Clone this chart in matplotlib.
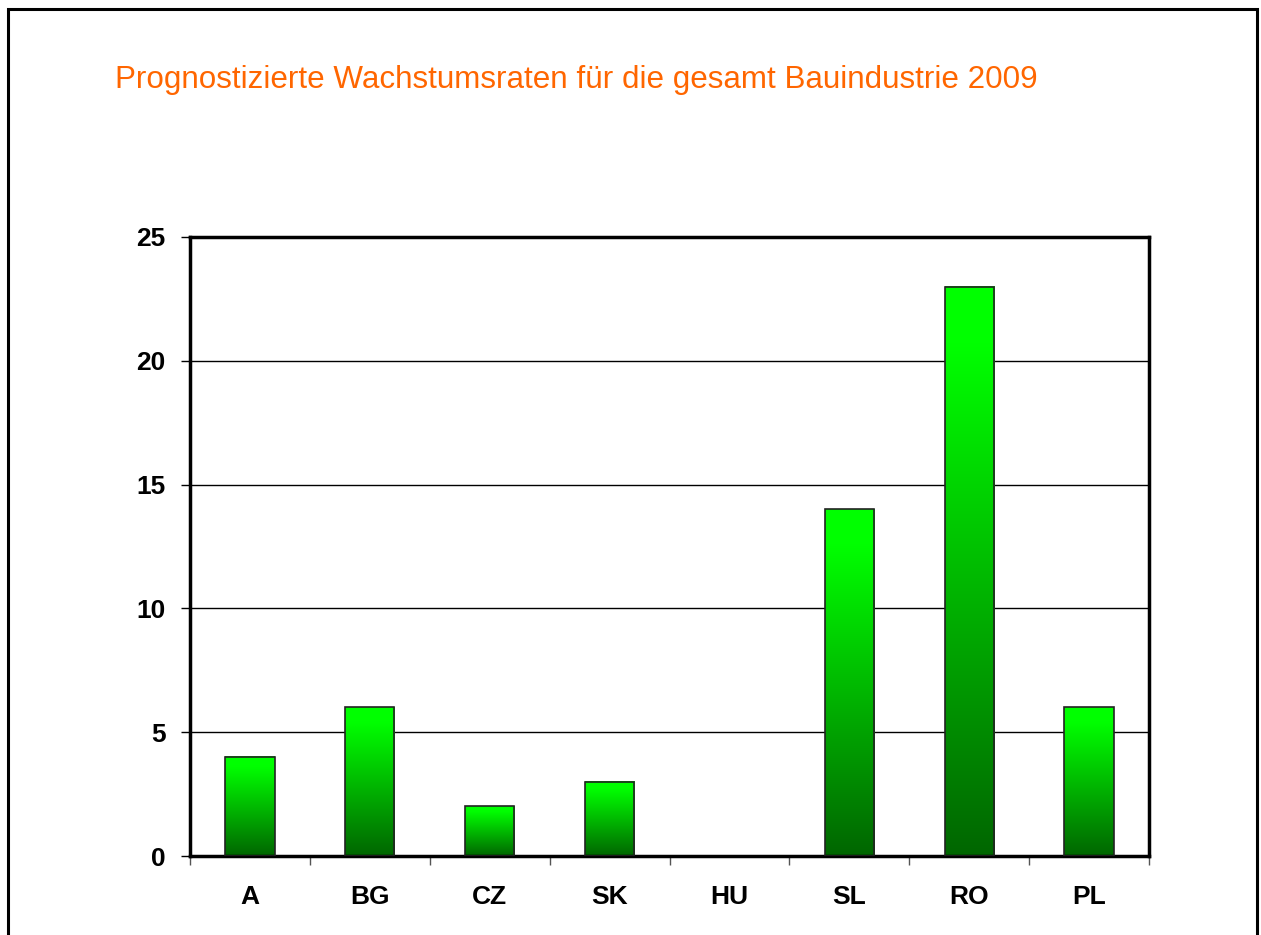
import numpy as np
import matplotlib

matplotlib.use("Agg")
import matplotlib.pyplot as plt
from matplotlib.colors import LinearSegmentedColormap
from matplotlib.patches import Rectangle

# data
COUNTRIES = ["A", "BG", "CZ", "SK", "HU", "SL", "RO", "PL"]
GROWTH = [4, 6, 2, 3, 0, 14, 23, 6]
Y_TICKS = [0, 5, 10, 15, 20, 25]
TITLE = "Prognostizierte Wachstumsraten für die gesamt Bauindustrie 2009"

plt.rcParams["font.family"] = ["Liberation Sans", "DejaVu Sans"]

BAR_WIDTH = 0.41
green = LinearSegmentedColormap.from_list(
    "bargreen", [(0.0, "#006600"), (0.9, "#00ff00"), (1.0, "#00ff00")]
)
grad = np.linspace(0, 1, 256).reshape(-1, 1)

fig = plt.figure(figsize=(12.61, 9.35), dpi=100)

# slide frame
fig.add_artist(Rectangle((8 / 1261, -0.05), 1249 / 1261, 1 + 0.05 - 9 / 935,
                         transform=fig.transFigure, fill=False,
                         edgecolor="black", linewidth=2.2))

fig.text(115 / 1261, 1 - 80 / 935, TITLE, color="#ff6600", fontsize=22.6,
         va="center", ha="left")

ax = fig.add_axes([190 / 1261, 79 / 935, 959 / 1261, 619 / 935])

for i, v in enumerate(GROWTH):
    if v <= 0:
        continue
    x0 = i - BAR_WIDTH / 2
    ax.imshow(grad, cmap=green, origin="lower", aspect="auto",
              extent=[x0, x0 + BAR_WIDTH, 0, v], zorder=2)
    ax.add_patch(Rectangle((x0, 0), BAR_WIDTH, v, fill=False,
                           edgecolor="#222222", linewidth=1.2, zorder=3))

ax.set_xlim(-0.5, len(COUNTRIES) - 0.5)
ax.set_ylim(0, 25)

ax.set_yticks(Y_TICKS)
ax.set_yticklabels([str(t) for t in Y_TICKS], fontsize=19, fontweight="bold")
ax.yaxis.grid(True, color="black", linewidth=1.0, zorder=1)
ax.set_axisbelow(True)
ax.tick_params(axis="y", direction="out", length=6.5, width=1, pad=11)

ax.set_xticks(np.arange(len(COUNTRIES)))
ax.set_xticklabels(COUNTRIES, fontsize=19, fontweight="bold")
ax.tick_params(axis="x", which="major", length=0, pad=21)
ax.set_xticks(np.arange(-0.5, len(COUNTRIES)), minor=True)
ax.tick_params(axis="x", which="minor", direction="out", length=6.5,
               width=1, color="#555555")

for s in ax.spines.values():
    s.set_linewidth(2.5)

fig.savefig("out.png", dpi=100)
